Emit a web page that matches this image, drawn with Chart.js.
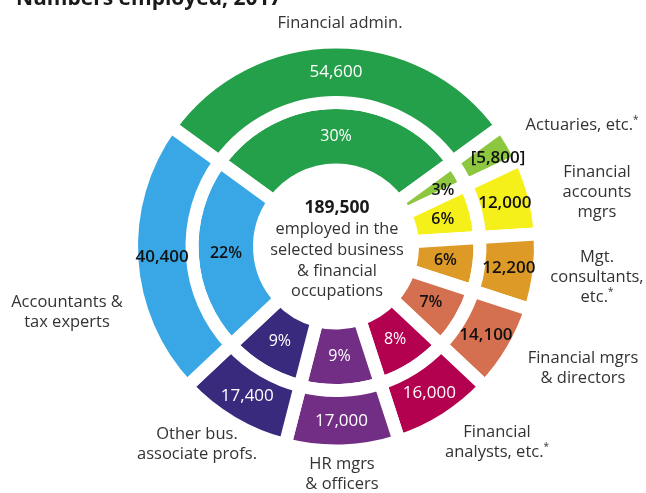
<!doctype html>
<html lang="en">
<head>
<meta charset="UTF-8">
<title>Numbers employed, 2017</title>
<script src="https://cdn.jsdelivr.net/npm/chart.js"></script>
<style>
  html, body { margin: 0; padding: 0; background: #fff; }
  .chart-container { width: 646px; height: 493px; position: relative; }
</style>
</head>
<body>
<div class="chart-container"><canvas id="jobsChart"></canvas></div>
<script>
// data, clockwise from the top
const occupations = [
  ['Financial admin.'],
  ['Actuaries, etc.*'],
  ['Financial', 'accounts', 'mgrs'],
  ['Mgt.', 'consultants,', 'etc.*'],
  ['Financial mgrs', '& directors'],
  ['Financial', 'analysts, etc.*'],
  ['HR mgrs', '& officers'],
  ['Other bus.', 'associate profs.'],
  ['Accountants &', 'tax experts']
];
const employed = [54600, 5800, 12000, 12200, 14100, 16000, 17000, 17400, 40400];
const sharePct = [30, 3, 6, 6, 7, 8, 9, 9, 22];
const lowReliability = [false, true, false, false, false, false, false, false, false];
const totalEmployed = 189500;
const centreLines = ['employed in the', 'selected business', '& financial', 'occupations'];
const titleText = 'Numbers employed, 2017';

const colors = ['#25a04a', '#8dc63f', '#f5f01a', '#dd9a26', '#d4704f', '#b3004f', '#722d84', '#3a2a7e', '#39a7e6'];
const textOn = ['#fff', '#111', '#111', '#111', '#111', '#fff', '#fff', '#fff', '#111'];
// where the occupation names sit, relative to the centre of the rings
const namePos = [[4, -223], [246, -121], [261, -54], [261, 31], [247, 122], [161, 196], [6, 228], [-139, 198], [-269, 66]];

const FONT = '"Open Sans", "DejaVu Sans", sans-serif';
const fmt = n => n.toLocaleString('en-US');

function drawWithStar(ctx, text, x, y, size) {
  const star = text.endsWith('*');
  const main = star ? text.slice(0, -1) : text;
  ctx.font = `${size}px ${FONT}`;
  const w1 = ctx.measureText(main).width;
  ctx.font = `${size * 0.6}px ${FONT}`;
  const w2 = star ? ctx.measureText('*').width : 0;
  const x0 = x - (w1 + w2) / 2;
  ctx.textAlign = 'left';
  ctx.font = `${size}px ${FONT}`;
  ctx.fillText(main, x0, y);
  if (star) {
    ctx.font = `${size * 0.6}px ${FONT}`;
    ctx.fillText('*', x0 + w1, y - size * 0.35);
  }
}

const labelPlugin = {
  id: 'ringLabels',
  afterDraw(chart) {
    const ctx = chart.ctx;
    ctx.save();
    ctx.textBaseline = 'middle';
    ctx.textAlign = 'center';

    let cx = 0, cy = 0;
    chart.data.datasets.forEach((ds, di) => {
      const meta = chart.getDatasetMeta(di);
      meta.data.forEach((arc, i) => {
        const p = arc.getProps(['x', 'y', 'startAngle', 'endAngle', 'innerRadius', 'outerRadius'], true);
        cx = p.x; cy = p.y;
        const mid = (p.startAngle + p.endAngle) / 2;
        const r = (p.innerRadius + p.outerRadius) / 2;
        let x = p.x + Math.cos(mid) * r;
        const y = p.y + Math.sin(mid) * r;
        if (sharePct[i] < 5) x += 12; // thin slice, label nudged off it
        ctx.fillStyle = textOn[i];
        const weight = textOn[i] === '#fff' ? 500 : 600;
        ctx.font = `${weight} ${ds.labelSize}px ${FONT}`;
        ctx.textAlign = 'center';
        ctx.fillText(ds.valueLabels[i], x, y);
      });
    });

    // occupation names
    ctx.fillStyle = '#333';
    occupations.forEach((lines, i) => {
      const [dx, dy] = namePos[i];
      const lh = 20;
      const top = cy + dy - (lines.length - 1) * lh / 2;
      lines.forEach((ln, k) => drawWithStar(ctx, ln, cx + dx, top + k * lh, 16.5));
    });

    // centre text
    ctx.textAlign = 'center';
    ctx.fillStyle = '#1a1a1a';
    ctx.font = `bold 17.5px ${FONT}`;
    ctx.fillText(fmt(totalEmployed), cx + 1, cy - 38);
    ctx.fillStyle = '#333';
    ctx.font = `16.3px ${FONT}`;
    centreLines.forEach((ln, k) => ctx.fillText(ln, cx + 1, cy - 17 + k * 20.7));

    // title, cut by the top edge
    ctx.textAlign = 'left';
    ctx.textBaseline = 'alphabetic';
    ctx.fillStyle = '#1a1a1a';
    ctx.font = `bold 21px ${FONT}`;
    ctx.fillText(titleText, 16, 5);
    ctx.restore();
  }
};

const sliceRotation = -sharePct[0] * 3.6 / 2;

new Chart(document.getElementById('jobsChart'), {
  type: 'doughnut',
  data: {
    labels: occupations.map(l => l.join(' ')),
    datasets: [
      {
        data: sharePct,
        valueLabels: employed.map((v, i) => lowReliability[i] ? `[${fmt(v)}]` : fmt(v)),
        labelSize: 17,
        backgroundColor: colors,
        borderColor: '#fff',
        borderWidth: 13,
        borderJoinStyle: 'miter',
        weight: 60.5
      },
      {
        data: sharePct,
        valueLabels: sharePct.map(v => v + '%'),
        labelSize: 16,
        backgroundColor: colors,
        borderColor: '#fff',
        borderWidth: 13,
        borderJoinStyle: 'miter',
        weight: 67.5
      }
    ]
  },
  options: {
    responsive: true,
    maintainAspectRatio: false,
    animation: false,
    rotation: sliceRotation,
    radius: 204.5,
    cutout: '37.4%',
    layout: { padding: { left: 26, right: 0, top: 0, bottom: 0 } },
    plugins: {
      legend: { display: false },
      tooltip: { enabled: false }
    }
  },
  plugins: [labelPlugin]
});
</script>
</body>
</html>
